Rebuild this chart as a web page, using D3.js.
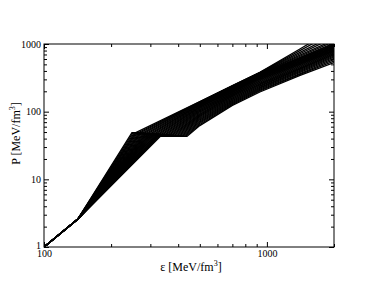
<!DOCTYPE html>
<html>
<head>
<meta charset="utf-8">
<script src="https://cdn.jsdelivr.net/npm/d3@7"></script>
<style>
  body { margin: 0; background: #fff; }
  svg { display: block; }
</style>
</head>
<body>
<script>
// common low-density part of every curve
var epsLow = [100, 142];
var pLow = [1, 2.6];

// onset of the flat (plateau) part of each curve, softest first
var epsOnset = [332, 329, 326, 324, 321, 318, 315, 313, 310, 307, 304, 301, 298, 296, 293, 290,
                287, 285, 282, 279, 276, 273, 270, 268, 265, 262, 259, 257, 254, 251, 248];
var pOnset = [43.0, 43.2, 43.4, 43.6, 43.8, 44.0, 44.2, 44.4, 44.6, 44.8, 45.0, 45.2, 45.4, 45.6, 45.8, 46.0,
              46.2, 46.4, 46.6, 46.8, 47.0, 47.2, 47.4, 47.6, 47.8, 48.0, 48.2, 48.4, 48.6, 48.8, 49.0];
// end of the plateau
var epsPlateauEnd = [438, 432, 426, 420, 414, 408, 402, 396, 390, 384, 378, 372, 366, 360, 354, 348,
                     342, 336, 330, 324, 318, 312, 306, 300, 294, 288, 282, 276, 270, 264, 258];

// high-density part, pressure read at these energy densities
var epsHigh = [500, 700, 930, 1400, 2000];
var pHigh = [
  [62.2, 123.9, 195.4, 341.2, 532],
  [64.8, 128.1, 202.0, 352, 560],
  [67.4, 132.3, 208.7, 363, 589],
  [70.1, 136.6, 215.5, 377, 615],
  [72.9, 141.0, 222.3, 391, 642],
  [75.7, 145.4, 229.3, 404, 664],
  [78.5, 149.8, 236.3, 418, 687],
  [81.4, 154.4, 243.4, 429, 705],
  [84.4, 159.0, 250.6, 441, 723],
  [87.3, 163.6, 257.8, 453, 742],
  [90.3, 168.2, 265.0, 465, 761],
  [93.3, 172.8, 272.2, 477, 778],
  [96.4, 177.4, 279.4, 489, 796],
  [99.4, 182.0, 286.6, 500, 812],
  [102.5, 186.6, 293.9, 512, 829],
  [105.5, 191.1, 301.0, 523, 846],
  [108.6, 195.6, 308.0, 534, 864],
  [111.6, 200.0, 314.9, 545, 882],
  [114.6, 204.4, 321.8, 557, 900],
  [117.5, 208.6, 328.5, 568, 918],
  [120.4, 212.9, 335.2, 580, 937],
  [123.1, 216.8, 341.3, 592, 957],
  [125.9, 220.7, 347.5, 604, 977],
  [128.4, 224.4, 353.3, 617, 1003],
  [131.0, 228.1, 359.1, 631, 1030],
  [133.2, 231.2, 364.0, 654, 1090],
  [135.4, 234.3, 368.8, 677, 1150],
  [137.2, 236.8, 372.8, 711, 1250],
  [139.0, 239.4, 376.8, 745, 1350],
  [140.0, 240.7, 379.0, 791, 1500],
  [141.0, 242.1, 381.1, 837.5, 1667]
];

// axis ticks
var xMajor = [100, 1000];
var xMinor = [200, 300, 400, 500, 600, 700, 800, 900, 2000];
var yMajor = [1, 10, 100, 1000];
var yMinor = [2, 3, 4, 5, 6, 7, 8, 9, 20, 30, 40, 50, 60, 70, 80, 90, 200, 300, 400, 500, 600, 700, 800, 900];

var margin = {top: 44, right: 42, bottom: 44, left: 44},
    width = 376 - margin.left - margin.right,
    height = 291 - margin.top - margin.bottom;

var x = d3.scaleLog().domain([100, 2000]).range([0, width]);
var y = d3.scaleLog().domain([1, 1000]).range([height, 0]);

var svg = d3.select("body").append("svg")
    .attr("width", 376)
    .attr("height", 291)
  .append("g")
    .attr("transform", "translate(" + margin.left + "," + margin.top + ")");

svg.append("clipPath").attr("id", "clip")
  .append("rect").attr("width", width).attr("height", height);

// build the curves
var curves = pHigh.map(function(ph, i) {
  var pts = epsLow.map(function(e, j) { return [e, pLow[j]]; });
  pts.push([epsOnset[i], pOnset[i]]);
  pts.push([epsPlateauEnd[i], pOnset[i]]);
  epsHigh.forEach(function(e, j) { pts.push([e, ph[j]]); });
  return pts;
});

var line = d3.line()
    .x(function(d) { return x(d[0]); })
    .y(function(d) { return y(d[1]); });

svg.append("g")
    .attr("clip-path", "url(#clip)")
  .selectAll("path")
  .data(curves)
  .enter().append("path")
    .attr("d", line)
    .attr("fill", "none")
    .attr("stroke", "#000")
    .attr("stroke-width", 1.3);

// axes: ticks point inward on all four sides
var font = "'Liberation Serif', 'Times New Roman', serif";

function styleAxis(g) {
  g.select(".domain").remove();
  g.selectAll("line").attr("stroke", "#000");
  g.selectAll("text").attr("font-family", font).attr("font-size", 10).attr("fill", "#000");
}

svg.append("g").attr("transform", "translate(0," + height + ")")
    .call(d3.axisBottom(x).tickValues(xMajor).tickSize(-5).tickPadding(3).tickFormat(d3.format("d")))
    .call(styleAxis);
svg.append("g").attr("transform", "translate(0," + height + ")")
    .call(d3.axisBottom(x).tickValues(xMinor).tickSize(-3).tickFormat(""))
    .call(styleAxis);
svg.append("g")
    .call(d3.axisTop(x).tickValues(xMajor).tickSize(-5).tickFormat(""))
    .call(styleAxis);
svg.append("g")
    .call(d3.axisTop(x).tickValues(xMinor).tickSize(-3).tickFormat(""))
    .call(styleAxis);

svg.append("g")
    .call(d3.axisLeft(y).tickValues(yMajor).tickSize(-5).tickPadding(3).tickFormat(d3.format("d")))
    .call(styleAxis)
    .selectAll("text")
    .attr("dy", function(d) { return d === 1 ? "0.1em" : "0.32em"; });
svg.append("g")
    .call(d3.axisLeft(y).tickValues(yMinor).tickSize(-3).tickFormat(""))
    .call(styleAxis);
svg.append("g").attr("transform", "translate(" + width + ",0)")
    .call(d3.axisRight(y).tickValues(yMajor).tickSize(-5).tickFormat(""))
    .call(styleAxis);
svg.append("g").attr("transform", "translate(" + width + ",0)")
    .call(d3.axisRight(y).tickValues(yMinor).tickSize(-3).tickFormat(""))
    .call(styleAxis);

// frame
svg.append("rect")
    .attr("width", width)
    .attr("height", height)
    .attr("fill", "none")
    .attr("stroke", "#000")
    .attr("stroke-width", 1);

// x axis title
var xt = svg.append("text")
    .attr("x", width / 2 + 2)
    .attr("y", height + 24)
    .attr("text-anchor", "middle")
    .attr("font-family", font)
    .attr("font-size", 12);
xt.append("tspan").text("\u03b5  [MeV/fm");
xt.append("tspan").attr("dy", -5).attr("font-size", 8).text("3");
xt.append("tspan").attr("dy", 5).text("]");

// y axis title
var yt = svg.append("text")
    .attr("transform", "translate(-24," + (height / 2 - 12) + ") rotate(-90)")
    .attr("text-anchor", "middle")
    .attr("font-family", font)
    .attr("font-size", 12);
yt.append("tspan").text("P [MeV/fm");
yt.append("tspan").attr("dy", -5).attr("font-size", 8).text("3");
yt.append("tspan").attr("dy", 5).text("]");
</script>
</body>
</html>
